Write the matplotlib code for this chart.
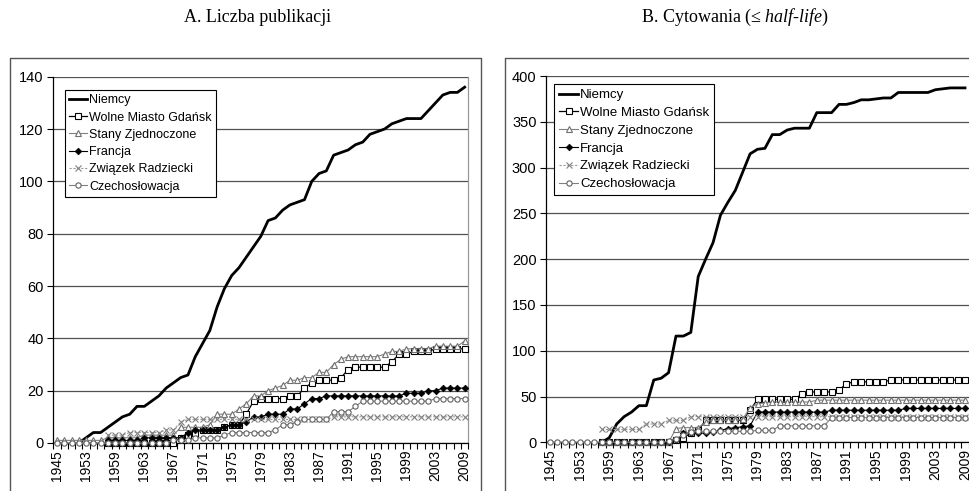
import numpy as np
import matplotlib
matplotlib.use('Agg')
import matplotlib.pyplot as plt
from matplotlib.lines import Line2D

nan = np.nan

# category axis (years with data; a few early/late years are skipped)
years = [1945, 1947, 1949, 1951, 1953, 1955, 1956, 1958, 1959] + list(range(1960, 2004)) + [2005, 2006, 2008, 2009]

names = ['Niemcy', 'Wolne Miasto Gdańsk', 'Stany Zjednoczone', 'Francja',
         'Związek Radziecki', 'Czechosłowacja']

# A. Liczba publikacji (cumulative)
pub_niemcy = [nan, nan, nan, 0, 2, 4, 4, 6, 8, 10, 11, 14, 14, 16, 18, 21, 23, 25, 26, 33,
              38, 43, 52, 59, 64, 67, 71, 75, 79, 85, 86, 89, 91, 92, 93, 100, 103, 104, 110,
              111, 112, 114, 115, 118, 119, 120, 122, 123, 124, 124, 124, 127, 130, 133, 134, 134, 136]
pub_gdansk = [nan, nan, nan, nan, nan, nan, nan, 0, 0, 0, 0, 0, 0, 0, 0, 0, 0, 2, 3, 4, 5, 5, 5,
              6, 7, 7, 11, 16, 17, 17, 17, 17, 18, 18, 21, 23, 24, 24, 24, 25, 28, 29, 29, 29, 29,
              29, 31, 34, 34, 35, 35, 35, 36, 36, 36, 36, 36]
pub_usa = [1, 1, 1, 1, 1, 1, 1, 2, 2, 2, 2, 2, 3, 3, 3, 3, 3, 6, 6, 6, 6, 7, 11, 11, 11, 13, 15,
           18, 18, 20, 21, 22, 24, 24, 25, 25, 27, 27, 30, 32, 33, 33, 33, 33, 33, 34, 35, 35, 36,
           36, 36, 36, 37, 37, 37, 37, 39]
pub_fr = [nan, nan, nan, nan, nan, nan, nan, 1, 1, 1, 1, 1, 2, 2, 2, 2, 2, 2, 4, 5, 5, 5, 5, 6,
          7, 7, 8, 10, 10, 11, 11, 11, 13, 13, 15, 17, 17, 18, 18, 18, 18, 18, 18, 18, 18, 18, 18,
          18, 19, 19, 19, 20, 20, 21, 21, 21, 21]
pub_ussr = [nan, nan, nan, nan, nan, nan, nan, 3, 3, 3, 4, 4, 4, 4, 4, 5, 5, 8, 9, 9, 9, 9, 9, 9,
            9, 9, 9, 9, 9, 9, 9, 9, 9, 9, 9, 9, 9, 9, 10, 10, 10, 10, 10, 10, 10, 10, 10, 10, 10,
            10, 10, 10, 10, 10, 10, 10, 10]
pub_cz = [0, 0, 0, 0, 0, 0, 0, 0, 0, 0, 0, 0, 0, 0, 0, 0, 1, 1, 1, 2, 2, 2, 2, 3, 4, 4, 4, 4, 4,
          4, 5, 7, 7, 8, 9, 9, 9, 9, 12, 12, 12, 14, 16, 16, 16, 16, 16, 16, 16, 16, 16, 16, 17,
          17, 17, 17, 17]

# B. Cytowania (<= half-life)
cit_niemcy = [nan, nan, nan, nan, nan, nan, nan, 0, 5, 20, 28, 33, 40, 40, 68, 70, 76, 116, 116,
              120, 181, 200, 218, 248, 262, 275, 295, 315, 320, 321, 336, 336, 341, 343, 343, 343,
              360, 360, 360, 369, 369, 371, 374, 374, 375, 376, 376, 382, 382, 382, 382, 382, 385,
              386, 387, 387, 387]
cit_gdansk = [nan, nan, nan, nan, nan, nan, nan, 0, 0, 0, 0, 0, 0, 0, 0, 0, 0, 2, 5, 10, 13, 24,
              24, 24, 24, 24, 24, 35, 47, 47, 47, 47, 47, 47, 53, 55, 55, 55, 55, 57, 64, 66, 66,
              66, 66, 66, 68, 68, 68, 68, 68, 68, 68, 68, 68, 68, 68]
cit_usa = [nan, nan, nan, nan, nan, nan, nan, 0, 0, 0, 0, 0, 0, 0, 0, 0, 0, 15, 16, 16, 16, 22,
           24, 24, 24, 24, 25, 38, 42, 43, 44, 44, 44, 44, 44, 44, 46, 46, 46, 46, 46, 46, 46, 46,
           46, 46, 46, 46, 46, 46, 46, 46, 46, 46, 46, 46, 46]
cit_fr = [nan, nan, nan, nan, nan, nan, nan, 0, 0, 0, 0, 0, 0, 0, 0, 0, 0, 2, 10, 10, 10, 10, 11,
          13, 15, 16, 17, 18, 33, 33, 33, 33, 33, 33, 33, 33, 33, 33, 35, 35, 35, 35, 35, 35, 35,
          35, 35, 35, 37, 37, 37, 37, 37, 37, 37, 37, 37]
cit_ussr = [nan, nan, nan, nan, nan, nan, nan, 14, 14, 14, 14, 14, 14, 20, 20, 20, 24, 24, 24, 28,
            28, 28, 28, 28, 28, 28, 28, 28, 28, 28, 28, 28, 28, 28, 28, 28, 28, 28, 28, 28, 28,
            28, 28, 28, 28, 28, 28, 28, 28, 28, 28, 28, 28, 28, 28, 28, 28]
cit_cz = [0, 0, 0, 0, 0, 0, 0, 0, 0, 0, 0, 0, 0, 0, 0, 0, 1, 4, 8, 11, 12, 12, 12, 12, 12, 12, 12,
          12, 13, 13, 13, 18, 18, 18, 18, 18, 18, 18, 27, 27, 27, 27, 27, 27, 27, 27, 27, 27, 27,
          27, 27, 27, 27, 27, 27, 27, 27]

styles = [
    dict(color='black', lw=2.0),
    dict(color='black', lw=0.9, marker='s', ms=4.2, mfc='white', mec='black', mew=0.8),
    dict(color='#808080', lw=0.8, marker='^', ms=5, mfc='white', mec='#707070', mew=0.8),
    dict(color='black', lw=0.8, marker='D', ms=3.4, mfc='black', mec='black', mew=0.5),
    dict(color='#9a9a9a', lw=0.8, ls=(0, (2, 1.5)), marker='x', ms=3.8, mec='#808080', mew=0.8),
    dict(color='#808080', lw=0.8, marker='o', ms=3.8, mfc='white', mec='#606060', mew=0.8),
]

W, H = 969, 491
fig = plt.figure(figsize=(W / 100, H / 100), dpi=100)


def px_axes(x0, x1, ytop, ybot):
    return fig.add_axes([x0 / W, 1 - ybot / H, (x1 - x0) / W, (ybot - ytop) / H])


def draw_panel(ax, series, ymax, ystep, leg_xy, leg_size, right_spine):
    x = np.arange(len(years))
    handles = []
    for vals, st in zip(series, styles):
        h, = ax.plot(x, vals, clip_on=False, zorder=3, **st)
        handles.append(h)

    ax.set_xlim(-0.5, len(years) - 0.5)
    ax.set_ylim(0, ymax)
    ax.set_yticks(np.arange(0, ymax + 1, ystep))
    ax.set_xticks(x[::4])
    ax.set_xticklabels([str(y) for y in years[::4]], rotation=90,
                       fontsize=10, family='Liberation Sans')
    ax.set_xticks(np.arange(-0.5, len(years), 1), minor=True)
    ax.tick_params(axis='x', which='major', length=0, pad=5)
    ax.tick_params(axis='x', which='minor', length=4, width=0.8, direction='out')
    ax.tick_params(axis='y', length=4, width=0.8, direction='out', labelsize=10.5, pad=3)
    for lab in ax.get_yticklabels():
        lab.set_family('Liberation Sans')

    ax.yaxis.grid(True, color='#505050', lw=0.9)
    ax.set_axisbelow(True)
    ax.spines['top'].set_visible(False)
    ax.spines['left'].set_linewidth(0.9)
    ax.spines['bottom'].set_linewidth(0.9)
    if right_spine:
        ax.spines['right'].set_color('#999999')
        ax.spines['right'].set_linewidth(0.9)
    else:
        ax.spines['right'].set_visible(False)

    leg = ax.legend(handles, names, loc='upper left', bbox_to_anchor=leg_xy,
                    borderaxespad=0, frameon=True, fancybox=False, edgecolor='black',
                    framealpha=1, handlelength=1.45, handletextpad=0.15, labelspacing=0.42,
                    borderpad=0.35, prop={'family': 'Liberation Sans', 'size': leg_size})
    leg.get_frame().set_linewidth(0.8)
    leg.set_zorder(5)


ax1 = px_axes(53.3, 468.3, 76.7, 443)
draw_panel(ax1, [pub_niemcy, pub_gdansk, pub_usa, pub_fr, pub_ussr, pub_cz],
           140, 20, (0.028, 0.964), 9, True)

ax2 = px_axes(546.3, 968.7, 76, 442.3)
draw_panel(ax2, [cit_niemcy, cit_gdansk, cit_usa, cit_fr, cit_ussr, cit_cz],
           400, 50, (0.019, 0.977), 9.5, False)

# outer chart frames
def fig_line(xs, ys):
    fig.add_artist(Line2D([v / W for v in xs], [1 - v / H for v in ys],
                          color='#555555', lw=1, transform=fig.transFigure))

fig_line([10, 10, 481, 481], [H, 58, 58, H])
fig_line([505, 505, W + 5], [H, 58, 58])

# panel titles
plt.rcParams['mathtext.fontset'] = 'custom'
plt.rcParams['mathtext.rm'] = 'Liberation Serif'
plt.rcParams['mathtext.it'] = 'Liberation Serif:italic'
fig.text(257 / W, 1 - 17 / H, 'A. Liczba publikacji', ha='center', va='center',
         family='Liberation Serif', size=13)
fig.text(735 / W, 1 - 17 / H, r'B. Cytowania (≤ $\mathit{half}$-$\mathit{life}$)',
         ha='center', va='center', family='Liberation Serif', size=13)

fig.savefig('out.png', dpi=100)
